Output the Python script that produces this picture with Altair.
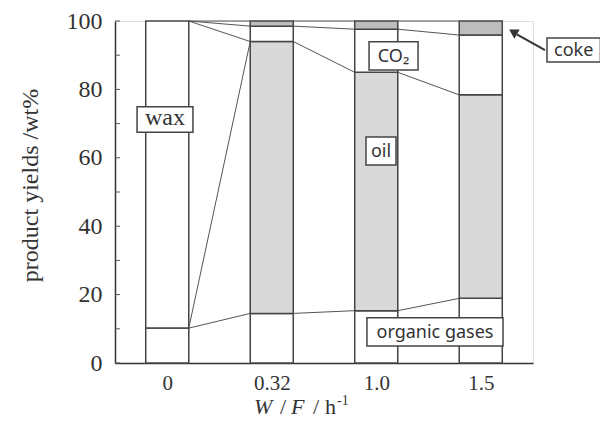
import altair as alt
import pandas as pd

# ---- data ----
categories = ["0", "0.32", "1.0", "1.5"]
gases = [10.2, 14.5, 15.3, 18.9]
wax = [89.8, 0, 0, 0]
oil = [0, 79.5, 69.7, 59.5]
co2 = [0, 4.5, 12.6, 17.5]
coke = [0, 1.5, 2.4, 4.1]

components = ["organic gases", "wax", "oil", "CO2", "coke"]
fills = ["#ffffff", "#ffffff", "#d9d9d9", "#ffffff", "#bdbdbd"]

y_ticks = [0, 20, 40, 60, 80, 100]
minor_ticks = [0, 10, 20, 30, 40, 50, 60, 70, 80, 90, 100]

# links between component tops of neighbouring bars
links = [
    (0, 1, "organic gases", "organic gases"),
    (0, 1, "organic gases", "oil"),
    (0, 1, "wax", "oil"),
    (0, 1, "wax", "CO2"),
    (0, 1, "wax", "coke"),
    (1, 2, "organic gases", "organic gases"),
    (1, 2, "oil", "oil"),
    (1, 2, "CO2", "CO2"),
    (1, 2, "coke", "coke"),
    (2, 3, "organic gases", "organic gases"),
    (2, 3, "oil", "oil"),
    (2, 3, "CO2", "CO2"),
    (2, 3, "coke", "coke"),
]

HALF = 0.206
rows = []
tops = {}
for i, cat in enumerate(categories):
    base = 0.0
    for comp, vals in zip(components, [gases, wax, oil, co2, coke]):
        v = vals[i]
        if v > 0:
            rows.append(dict(idx=i, cat=cat, comp=comp, x=i - HALF, x2=i + HALF,
                             y=base, y2=base + v))
            base += v
            tops[(i, comp)] = base
bars_df = pd.DataFrame(rows)

link_rows = []
for a, b, ca, cb in links:
    link_rows.append(dict(x=a + HALF, x2=b - HALF, y=tops[(a, ca)], y2=tops[(b, cb)]))
links_df = pd.DataFrame(link_rows)

# annotation boxes (data coordinates)
box_labels = ["wax", "CO₂", "oil", "organic gases", "coke"]
box_x = [-0.289, 1.931, 1.902, 1.911, 3.634]
box_x2 = [0.246, 2.400, 2.189, 3.213, 4.145]
box_y = [74.9, 93.9, 66.1, 13.2, 95.0]
box_y2 = [67.5, 85.7, 57.9, 5.0, 88.0]
box_font = ["Liberation Serif", "Noto Sans", "Noto Sans", "Noto Sans", "Noto Sans"]
box_size = [24, 19, 18, 18, 18]
boxes_df = pd.DataFrame(dict(label=box_labels, x=box_x, x2=box_x2, y=box_y, y2=box_y2,
                             font=box_font, size=box_size))
boxes_df["cx"] = (boxes_df.x + boxes_df.x2) / 2
boxes_df["cy"] = (boxes_df.y + boxes_df.y2) / 2

arrow_df = pd.DataFrame(dict(x=[3.615], y=[91.5], x2=[3.345], y2=[96.1]))
arrow_head = pd.DataFrame(dict(x=[3.322], y=[96.6]))

SERIF = "Liberation Serif"
xscale = alt.Scale(domain=[-0.5, 3.5], nice=False, zero=False)
yscale = alt.Scale(domain=[0, 100], nice=False)

x_axis = alt.Axis(values=[0, 1, 2, 3],
                  labelExpr="['0','0.32','1.0','1.5'][datum.value]",
                  ticks=False, grid=False, domainColor="#333333", domainWidth=1.5,
                  labelFont=SERIF, labelFontSize=21, labelColor="#333333",
                  labelPadding=9, title=None)
y_axis = alt.Axis(values=y_ticks, ticks=False, grid=False, domainColor="#333333",
                  domainWidth=1.5, labelFont=SERIF, labelFontSize=24,
                  labelColor="#333333", labelPadding=13,
                  title="product yields /wt%", titleFont=SERIF, titleFontSize=24,
                  titleFontWeight="normal", titleColor="#333333",
                  titleX=-85, titleY=164, titleAngle=270, titleBaseline="middle",
                  titleAlign="center")

bars = alt.Chart(bars_df).mark_bar(stroke="#444444", strokeWidth=1.5).encode(
    x=alt.X("x:Q", scale=xscale, axis=x_axis),
    x2="x2:Q",
    y=alt.Y("y:Q", scale=yscale, axis=y_axis),
    y2="y2:Q",
    fill=alt.Fill("comp:N", scale=alt.Scale(domain=components, range=fills), legend=None),
)

lines = alt.Chart(links_df).mark_rule(color="#555555", strokeWidth=1).encode(
    x="x:Q", x2="x2:Q", y="y:Q", y2="y2:Q")

ticks = alt.Chart(pd.DataFrame(dict(v=minor_ticks))).mark_rule(
    color="#555555", strokeWidth=1).encode(
    y="v:Q", x=alt.value(0), x2=alt.value(5))

box_rects = alt.Chart(boxes_df).mark_rect(fill="white", stroke="#444444",
                                          strokeWidth=1.5).encode(
    x="x:Q", x2="x2:Q", y="y:Q", y2="y2:Q")

box_text_serif = alt.Chart(boxes_df[boxes_df.font == SERIF]).mark_text(
    font=SERIF, fontSize=24, color="#333333", baseline="middle", dy=-1).encode(
    x="cx:Q", y="cy:Q", text="label:N")
box_text_sans = alt.Chart(boxes_df[boxes_df.font != SERIF]).mark_text(
    font="Noto Sans", fontSize=18, color="#333333", baseline="middle", dy=1).encode(
    x="cx:Q", y="cy:Q", text="label:N")

arrow = alt.Chart(arrow_df).mark_rule(color="#333333", strokeWidth=2).encode(
    x="x:Q", x2="x2:Q", y="y:Q", y2="y2:Q")
head = alt.Chart(arrow_head).mark_point(shape="triangle", filled=True, size=110,
                                        color="#333333", opacity=1, angle=300).encode(
    x="x:Q", y="y:Q")

one = pd.DataFrame(dict(a=[0]))


def tpart(txt, px, py, size=22, italic=False, align="left"):
    return alt.Chart(one).mark_text(
        text=txt, font=SERIF, fontSize=size, color="#333333", align=align,
        baseline="alphabetic", fontStyle="italic" if italic else "normal").encode(
        x=alt.value(px), y=alt.value(py))


TY = 393
title_parts = [
    tpart("W", 139, TY, italic=True),
    tpart("/", 168, TY, align="center"),
    tpart("F", 176, TY, italic=True),
    tpart("/", 201, TY, align="center"),
    tpart("h", 210, TY),
    tpart("-1", 222, TY - 9, size=14),
]

chart = alt.layer(bars, lines, ticks, box_rects, box_text_serif, box_text_sans,
                  arrow, head, *title_parts).properties(
    width=418, height=342,
    autosize=alt.AutoSizeParams(type="none"),
    padding={"left": 107, "top": 13, "right": 67, "bottom": 57},
).configure_view(stroke="#c8c8c8", strokeWidth=1).configure(background="white")

chart.save("out.html", embed_options={"renderer": "svg", "actions": False})
